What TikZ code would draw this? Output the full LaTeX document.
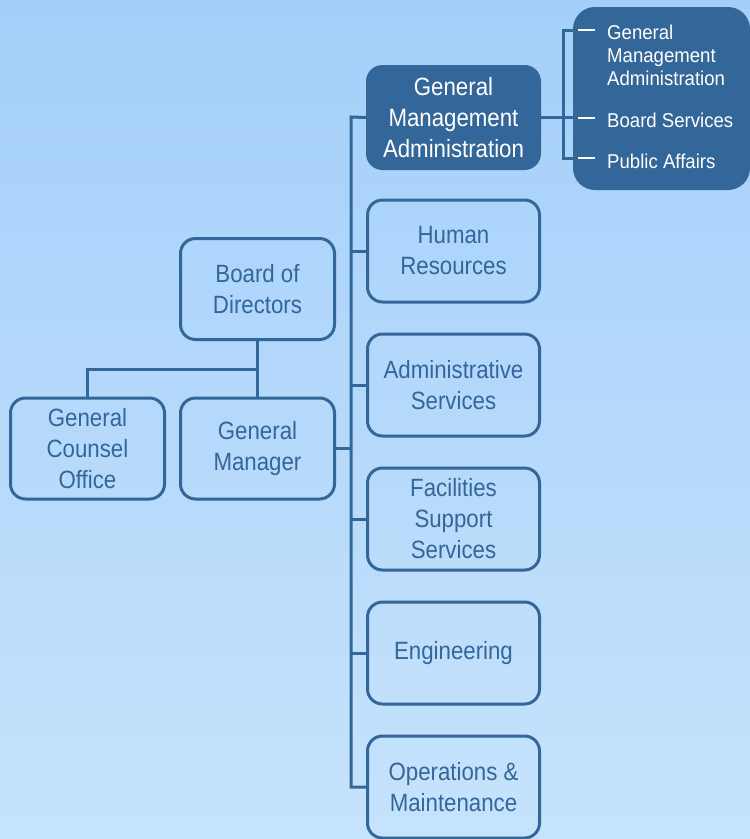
\documentclass[tikz,border=0pt]{standalone}
\usepackage{fontspec}
\setmainfont{Liberation Sans}[FakeStretch=0.89]
\newfontfamily\subfont{Liberation Sans}[FakeStretch=0.93]
\definecolor{orgblue}{RGB}{51,102,153}
\definecolor{bgtop}{RGB}{164,207,250}
\definecolor{bgbot}{RGB}{198,227,252}
\tikzset{
  unit/.style={draw=orgblue, line width=3pt, rounded corners=15pt,
    minimum width=172pt, minimum height=102pt, text=orgblue,
    align=center, font=\fontsize{25}{31}\selectfont, inner sep=0pt},
  unitdark/.style={unit, fill=orgblue, text=white},
  exec/.style={unit, minimum width=154pt, minimum height=101pt},
  subpanel/.style={fill=orgblue, rounded corners=22pt, minimum width=177pt,
    minimum height=183pt, inner sep=0pt},
  subitem/.style={text=white, anchor=west, align=left, inner sep=0pt,
    font=\subfont\fontsize{20}{23}\selectfont},
  conn/.style={draw=orgblue, line width=3pt},
  tick/.style={draw=white, line width=2pt}
}
\begin{document}
\begin{tikzpicture}[x=1pt,y=-1pt]
  % page background
  \useasboundingbox (0,0) rectangle (750,839);
  \fill[top color=bgtop, bottom color=bgbot] (0,0) rectangle (750,839);

  % sub-unit panel on the right
  \node[subpanel] (sub) at (661.5,98.5) {};

  % department column
  \node[unitdark] (gma) at (453.5,117.5) {General\\Management\\Administration};
  \node[unit] (hr)  at (453.5,251) {Human\\Resources};
  \node[unit] (adm) at (453.5,385) {Administrative\\Services};
  \node[unit] (fac) at (453.5,519) {Facilities\\Support\\Services};
  \node[unit] (eng) at (453.5,653) {Engineering};
  \node[unit] (om)  at (453.5,787) {Operations \&\\Maintenance};

  % executive boxes
  \node[exec] (bod) at (257.5,289) {Board of\\Directors};
  \node[exec] (gco) at (87.5,448.5) {General\\Counsel\\Office};
  \node[exec] (gm)  at (257.5,448.5) {General\\Manager};

  % board to general manager and counsel
  \coordinate (split) at (257.5,369);
  \draw[conn] (bod.south) -- (gm.north);
  \draw[conn] (split) -| (gco.north);

  % trunk from general manager to the departments
  \coordinate (trunk) at (351,117);
  \draw[conn] (gma.west) -- (trunk) |- (om.west);
  \draw[conn] (gm.east) -- (gm.east -| trunk);
  \foreach \d in {hr,adm,fac,eng}
    \draw[conn] (\d.west) -- (\d.west -| trunk);

  % bracket into the sub-unit panel
  \coordinate (bt) at (563,30);
  \coordinate (bb) at (563,158);
  \draw[conn] (gma.east) -- (sub.west |- gma.east);
  \draw[conn] (sub.west |- bt) -- (bt) -- (bb) -- (sub.west |- bb);

  % sub-unit entries
  \coordinate (t1) at (578,30);
  \coordinate (t2) at (578,118);
  \coordinate (t3) at (578,158);
  \draw[tick] (t1) -- ++(17,0);
  \draw[tick] (t2) -- ++(17,0);
  \draw[tick] (t3) -- ++(17,0);
  \node[subitem] (s1) at (607,55) {General\\Management\\Administration};
  \node[subitem] (s2) at (607,120) {Board Services};
  \node[subitem] (s3) at (607,161) {Public Affairs};
\end{tikzpicture}
\end{document}
